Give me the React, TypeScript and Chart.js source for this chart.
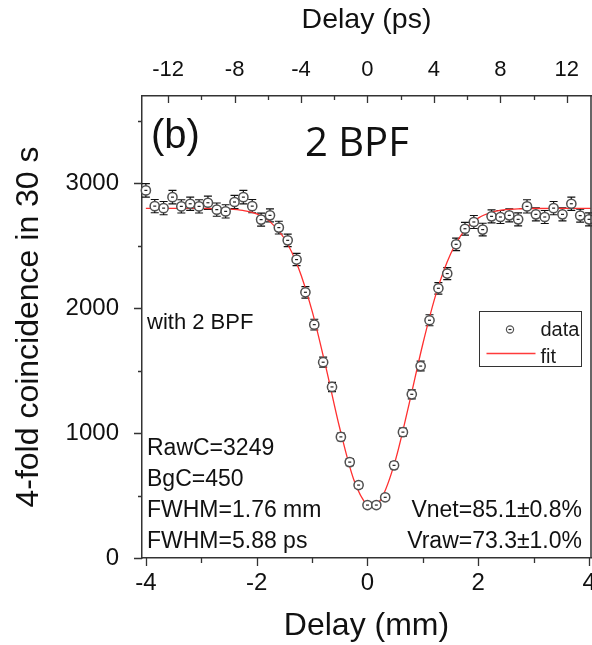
import React, { useEffect, useRef } from 'react';
import { Chart, registerables } from 'chart.js';

Chart.register(...registerables);

// ---- data ----
const DELAY_MM = [
  -4.0, -3.84, -3.68, -3.52, -3.36, -3.2, -3.04, -2.88, -2.72, -2.56,
  -2.4, -2.24, -2.08, -1.92, -1.76, -1.6, -1.44, -1.28, -1.12, -0.96,
  -0.8, -0.64, -0.48, -0.32, -0.16, 0.0, 0.16, 0.32, 0.48, 0.64,
  0.8, 0.96, 1.12, 1.28, 1.44, 1.6, 1.76, 1.92, 2.08, 2.24,
  2.4, 2.56, 2.72, 2.88, 3.04, 3.2, 3.36, 3.52, 3.68, 3.84, 4.0,
];
const COUNTS = [
  2944, 2818, 2802, 2890, 2816, 2837, 2816, 2845, 2790, 2776,
  2851, 2890, 2818, 2710, 2744, 2646, 2544, 2390, 2128, 1869,
  1568, 1370, 970, 768, 584, 424, 424, 486, 742, 1008,
  1311, 1537, 1904, 2160, 2278, 2512, 2637, 2691, 2630, 2736,
  2731, 2744, 2712, 2816, 2752, 2731, 2802, 2752, 2837, 2742, 2712,
];
const COUNT_ERR = [
  54, 53, 53, 54, 53, 53, 53, 53, 53, 53,
  53, 54, 53, 52, 52, 51, 50, 49, 46, 43,
  40, 37, 31, 28, 24, 21, 21, 22, 27, 32,
  36, 39, 44, 46, 48, 50, 51, 52, 51, 52,
  52, 52, 52, 53, 52, 52, 53, 52, 53, 52, 52,
];
const FIT_MM = [
  -4.0, -3.5, -3.0, -2.75, -2.5, -2.25, -2.0, -1.75, -1.5, -1.25,
  -1.0, -0.75, -0.5, -0.25, 0.0, 0.075, 0.25, 0.5, 0.75, 1.0,
  1.25, 1.5, 1.75, 2.0, 2.25, 2.5, 2.75, 3.0, 3.5, 4.03,
];
const FIT_COUNTS = [
  2800, 2800, 2800, 2798, 2795, 2784, 2756, 2690, 2559, 2329,
  1979, 1526, 1039, 631, 420, 408, 475, 776, 1231, 1716,
  2133, 2435, 2622, 2722, 2770, 2790, 2797, 2799, 2800, 2800,
];

const X_TICKS_MM = [-4, -2, 0, 2, 4];
const X_MINOR_MM = [-3, -1, 1, 3];
const X_TICKS_PS = [-12, -8, -4, 0, 4, 8, 12];
const X_MINOR_PS = [-10, -6, -2, 2, 6, 10];
const Y_TICKS = [0, 1000, 2000, 3000];
const Y_MINOR = [500, 1500, 2500, 3500];

const MM_TO_PS = 3.3356;
const X_MIN = -4.07;
const X_MAX = 4.035;
const Y_MIN = 0;
const Y_MAX = 3700;

const LEFT_NOTES = ['RawC=3249', 'BgC=450', 'FWHM=1.76 mm', 'FWHM=5.88 ps'];
const RIGHT_NOTES = ['Vnet=85.1\u00B10.8%', 'Vraw=73.3\u00B11.0%'];

const SANS = '"Liberation Sans", Arial, sans-serif';
const AXIS_COLOR = '#333';
const TEXT_COLOR = '#111';

const decorPlugin = {
  id: 'decor',
  beforeDatasetsDraw(chart: any) {
    const { ctx } = chart;
    const xs = chart.scales.x;
    const ys = chart.scales.y;
    ctx.save();
    ctx.strokeStyle = '#111';
    ctx.lineWidth = 1.2;
    DELAY_MM.forEach((m, i) => {
      const px = xs.getPixelForValue(m);
      const top = ys.getPixelForValue(COUNTS[i] + COUNT_ERR[i]);
      const bot = ys.getPixelForValue(COUNTS[i] - COUNT_ERR[i]);
      ctx.beginPath();
      ctx.moveTo(px, top);
      ctx.lineTo(px, bot);
      ctx.moveTo(px - 4, top);
      ctx.lineTo(px + 4, top);
      ctx.moveTo(px - 4, bot);
      ctx.lineTo(px + 4, bot);
      ctx.stroke();
    });
    ctx.restore();
  },
  afterDatasetsDraw(chart: any) {
    const { ctx, chartArea } = chart;
    const xs = chart.scales.x;
    const x2 = chart.scales.x2;
    const ys = chart.scales.y;
    const { left, right, top, bottom } = chartArea;
    ctx.save();

    // center dash in each marker
    ctx.strokeStyle = '#222';
    ctx.lineWidth = 1.2;
    DELAY_MM.forEach((m, i) => {
      const px = xs.getPixelForValue(m);
      const py = ys.getPixelForValue(COUNTS[i]);
      ctx.beginPath();
      ctx.moveTo(px - 1.5, py);
      ctx.lineTo(px + 1.5, py);
      ctx.stroke();
    });

    // right frame line
    ctx.strokeStyle = AXIS_COLOR;
    ctx.lineWidth = 1.5;
    ctx.beginPath();
    ctx.moveTo(right, top);
    ctx.lineTo(right, bottom);
    ctx.stroke();

    // tick marks
    ctx.lineWidth = 1.3;
    ctx.beginPath();
    X_TICKS_MM.forEach((v) => {
      const p = Math.round(xs.getPixelForValue(v)) + 0.5;
      ctx.moveTo(p, bottom);
      ctx.lineTo(p, bottom + 8);
    });
    X_MINOR_MM.forEach((v) => {
      const p = Math.round(xs.getPixelForValue(v)) + 0.5;
      ctx.moveTo(p, bottom);
      ctx.lineTo(p, bottom + 5);
    });
    X_TICKS_PS.forEach((v) => {
      const p = Math.round(x2.getPixelForValue(v)) + 0.5;
      ctx.moveTo(p, top);
      ctx.lineTo(p, top + 7);
    });
    X_MINOR_PS.forEach((v) => {
      const p = Math.round(x2.getPixelForValue(v)) + 0.5;
      ctx.moveTo(p, top);
      ctx.lineTo(p, top + 4);
    });
    Y_TICKS.forEach((v) => {
      const p = Math.round(ys.getPixelForValue(v)) + 0.5;
      ctx.moveTo(left, p);
      ctx.lineTo(left - 8, p);
    });
    Y_MINOR.forEach((v) => {
      const p = Math.round(ys.getPixelForValue(v)) + 0.5;
      ctx.moveTo(left, p);
      ctx.lineTo(left - 4, p);
    });
    ctx.stroke();

    // annotation texts
    ctx.fillStyle = TEXT_COLOR;
    ctx.textBaseline = 'alphabetic';
    ctx.textAlign = 'left';
    ctx.font = `40px ${SANS}`;
    ctx.fillText('(b)', left + 9, top + 52);
    ctx.font = `40px "Open Sans", "Noto Sans", sans-serif`;
    ctx.fillText('2 BPF', left + 163, top + 60);

    ctx.font = `22px ${SANS}`;
    ctx.fillText('with 2 BPF', left + 5, top + 233);

    ctx.font = `23px ${SANS}`;
    LEFT_NOTES.forEach((t, i) => {
      ctx.fillText(t, left + 5, top + 359 + i * 31);
    });
    ctx.textAlign = 'right';
    RIGHT_NOTES.forEach((t, i) => {
      ctx.fillText(t, 582, top + 421 + i * 31);
    });

    // legend
    const lx = 479.5;
    const ly = 311.5;
    ctx.strokeStyle = '#333';
    ctx.lineWidth = 1;
    ctx.strokeRect(lx, ly, 102, 55);
    ctx.beginPath();
    ctx.fillStyle = '#fff';
    ctx.strokeStyle = '#555';
    ctx.lineWidth = 1.2;
    ctx.arc(lx + 30.5, ly + 18, 3.6, 0, Math.PI * 2);
    ctx.fill();
    ctx.stroke();
    ctx.beginPath();
    ctx.strokeStyle = '#222';
    ctx.moveTo(lx + 29, ly + 18);
    ctx.lineTo(lx + 32, ly + 18);
    ctx.stroke();
    ctx.beginPath();
    ctx.strokeStyle = '#ff3b3b';
    ctx.lineWidth = 1.6;
    ctx.moveTo(lx + 7, ly + 42);
    ctx.lineTo(lx + 56, ly + 42);
    ctx.stroke();
    ctx.fillStyle = '#1a1a1a';
    ctx.textAlign = 'left';
    ctx.font = `20px ${SANS}`;
    ctx.fillText('data', lx + 61, ly + 24);
    ctx.fillText('fit', lx + 61, ly + 51);

    ctx.restore();
  },
};

const noPad = (s: any) => {
  s.paddingLeft = 0;
  s.paddingRight = 0;
  s.paddingTop = 0;
  s.paddingBottom = 0;
};

export default function App() {
  const ref = useRef<HTMLCanvasElement | null>(null);

  useEffect(() => {
    document.body.style.margin = '0';
    const canvas = ref.current;
    if (!canvas) return;
    const tickFont = { family: SANS, size: 24 };
    const plain = (v: any) => String(v);
    const chart = new Chart(canvas, {
      type: 'scatter',
      data: {
        datasets: [
          {
            label: 'data',
            data: DELAY_MM.map((m, i) => ({ x: m, y: COUNTS[i] })),
            pointStyle: 'circle',
            pointRadius: 4.6,
            pointBorderWidth: 1.5,
            pointBorderColor: '#505050',
            pointBackgroundColor: '#ffffff',
            showLine: false,
            clip: false,
          } as any,
          {
            label: 'fit',
            type: 'line',
            data: FIT_MM.map((m, i) => ({ x: m, y: FIT_COUNTS[i] })),
            borderColor: '#ff2f2f',
            borderWidth: 1.3,
            pointRadius: 0,
            cubicInterpolationMode: 'monotone',
            fill: false,
            showLine: true,
          } as any,
        ],
      },
      options: {
        responsive: false,
        animation: false,
        events: [],
        layout: { autoPadding: false, padding: { left: 0, right: 1, top: 0, bottom: 0 } },
        plugins: { legend: { display: false }, tooltip: { enabled: false } },
        scales: {
          x: {
            type: 'linear',
            position: 'bottom',
            min: X_MIN,
            max: X_MAX,
            afterBuildTicks: (s: any) => {
              s.ticks = X_TICKS_MM.map((v) => ({ value: v }));
            },
            afterFit: (s: any) => {
              s.height = 87;
              noPad(s);
            },
            grid: { display: false },
            border: { display: true, color: AXIS_COLOR, width: 1.5 },
            ticks: { font: tickFont, color: TEXT_COLOR, padding: 3, maxRotation: 0, autoSkip: false, callback: plain },
            title: {
              display: true,
              text: 'Delay (mm)',
              font: { family: SANS, size: 32 },
              color: TEXT_COLOR,
              padding: { top: 0, bottom: 0 },
            },
          },
          x2: {
            type: 'linear',
            axis: 'x',
            position: 'top',
            min: X_MIN * MM_TO_PS,
            max: X_MAX * MM_TO_PS,
            afterBuildTicks: (s: any) => {
              s.ticks = X_TICKS_PS.map((v) => ({ value: v }));
            },
            afterFit: (s: any) => {
              s.height = 96;
              noPad(s);
            },
            grid: { display: false },
            border: { display: true, color: AXIS_COLOR, width: 1.5 },
            ticks: { font: { family: SANS, size: 22 }, color: TEXT_COLOR, padding: 5, maxRotation: 0, autoSkip: false, callback: plain },
            title: {
              display: true,
              text: 'Delay (ps)',
              font: { family: SANS, size: 28.5 },
              color: TEXT_COLOR,
              padding: { top: 3, bottom: 0 },
            },
          },
          y: {
            type: 'linear',
            position: 'left',
            min: Y_MIN,
            max: Y_MAX,
            afterBuildTicks: (s: any) => {
              s.ticks = Y_TICKS.map((v) => ({ value: v }));
            },
            afterFit: (s: any) => {
              s.width = 142;
              noPad(s);
            },
            grid: { display: false },
            border: { display: true, color: AXIS_COLOR, width: 1.5 },
            ticks: { font: tickFont, color: TEXT_COLOR, padding: 15, callback: plain },
            title: {
              display: true,
              text: '4-fold coincidence in 30 s',
              font: { family: SANS, size: 32 },
              color: TEXT_COLOR,
              padding: { top: 10, bottom: 0 },
            },
          },
        },
      } as any,
      plugins: [decorPlugin],
    });
    return () => chart.destroy();
  }, []);

  return (
    <div style={{ width: 592, height: 645, background: '#fff' }}>
      <canvas ref={ref} width={592} height={645} style={{ display: 'block' }} />
    </div>
  );
}
